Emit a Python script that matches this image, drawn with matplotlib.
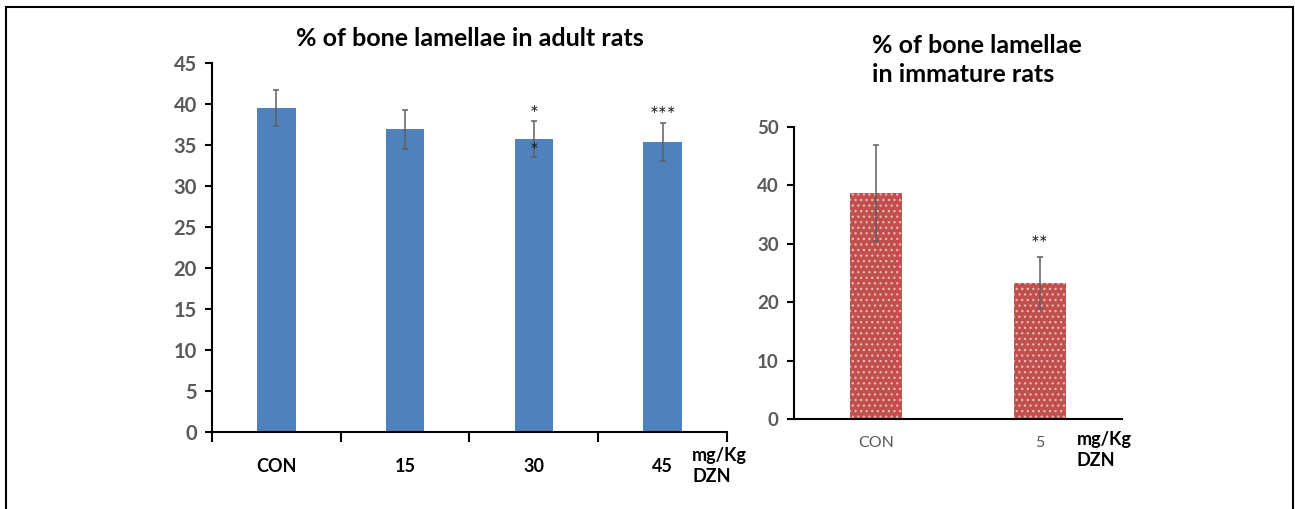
import matplotlib
matplotlib.use("Agg")
from matplotlib import pyplot as plt
from matplotlib.patches import Rectangle

plt.rcParams['font.family'] = ['Lato', 'DejaVu Sans']
plt.rcParams['hatch.linewidth'] = 0.9

# left chart: adult rats
adult_groups = ["CON", "15", "30", "45"]
adult_mean = [39.5, 36.9, 35.7, 35.4]
adult_err = [2.2, 2.4, 2.2, 2.3]

# right chart: immature rats
young_groups = ["CON", "5"]
young_mean = [38.7, 23.3]
young_err = [8.2, 4.4]

W, H = 1295, 509
fig = plt.figure(figsize=(W / 100, H / 100), dpi=100)

def box(x0, x1, y_top, y_bot):
    return [x0 / W, 1 - y_bot / H, (x1 - x0) / W, (y_bot - y_top) / H]

gray = "#595959"
errc = "#5F5F5F"

# ---- adult ----
ax1 = fig.add_axes(box(212, 727, 63, 432))
x1 = list(range(len(adult_groups)))
ax1.bar(x1, adult_mean, width=0.3, color="#4F81BD")
ax1.errorbar(x1, adult_mean, yerr=adult_err, fmt="none", ecolor=errc,
             elinewidth=1.1, capsize=2.5, capthick=1.1)
ax1.set_xlim(-0.5, 3.5)
ax1.set_ylim(0, 45)
ax1.set_yticks(range(0, 46, 5))
ax1.set_yticklabels([str(v) for v in range(0, 46, 5)], fontsize=14.5,
                    fontweight="bold", color=gray)
ax1.set_xticks([-0.5, 0.5, 1.5, 2.5, 3.5])
ax1.set_xticklabels([])
ax1.set_xticks(x1, minor=True)
ax1.set_xticklabels(adult_groups, minor=True, fontsize=13, fontweight="bold")
ax1.tick_params(axis="x", which="major", length=7, width=1.5, direction="out")
ax1.tick_params(axis="x", which="minor", length=0, pad=19)
ax1.tick_params(axis="y", length=5, width=1.5, pad=6)
for s in ["top", "right"]:
    ax1.spines[s].set_visible(False)
for s in ["left", "bottom"]:
    ax1.spines[s].set_linewidth(1.5)
ax1.text(2, 38.6, "*", ha="center", va="center", fontsize=15, color="#222222")
ax1.text(2, 34.2, "*", ha="center", va="center", fontsize=15, color="#222222")
ax1.text(3, 38.5, "***", ha="center", va="center", fontsize=15, color="#222222")

fig.text(470 / W, 1 - 39 / H, "% of bone lamellae in adult rats", fontsize=18,
         fontweight="bold", ha="center", va="center")

# ---- immature ----
ax2 = fig.add_axes(box(794, 1122, 127, 419))
x2 = list(range(len(young_groups)))
ax2.bar(x2, young_mean, width=0.32, color="#C0504D", hatch="...",
        edgecolor="#EBB9B8", linewidth=0)
ax2.errorbar(x2, young_mean, yerr=young_err, fmt="none", ecolor=errc,
             elinewidth=1.1, capsize=2.5, capthick=1.1)
ax2.set_xlim(-0.5, 1.5)
ax2.set_ylim(0, 50)
ax2.set_yticks(range(0, 51, 10))
ax2.set_yticklabels([str(v) for v in range(0, 51, 10)], fontsize=13.5,
                    fontweight="bold", color=gray)
ax2.set_xticks(x2)
ax2.set_xticklabels(young_groups, fontsize=11.5, color=gray)
ax2.tick_params(axis="x", length=0, pad=12)
ax2.tick_params(axis="y", length=5, width=1.5, pad=6)
for s in ["top", "right"]:
    ax2.spines[s].set_visible(False)
for s in ["left", "bottom"]:
    ax2.spines[s].set_linewidth(1.5)
ax2.text(1, 29.8, "**", ha="center", va="center", fontsize=15, color="#222222")

fig.text(872 / W, 1 - 60 / H, "% of bone lamellae\nin immature rats", fontsize=18,
         fontweight="bold", ha="left", va="center", linespacing=1.35)

fig.text(692 / W, 1 - 466 / H, "mg/Kg\nDZN", fontsize=13, fontweight="bold",
         ha="left", va="center", linespacing=1.25)
fig.text(1077 / W, 1 - 450 / H, "mg/Kg\nDZN", fontsize=13, fontweight="bold",
         ha="left", va="center", linespacing=1.25)

# outer frame
fig.patches.append(Rectangle((6 / W, -0.1), (1293 - 6) / W, 1.1 - 7 / H,
                             transform=fig.transFigure, fill=False,
                             edgecolor="black", linewidth=1.5))

fig.savefig("out.png", dpi=100)
